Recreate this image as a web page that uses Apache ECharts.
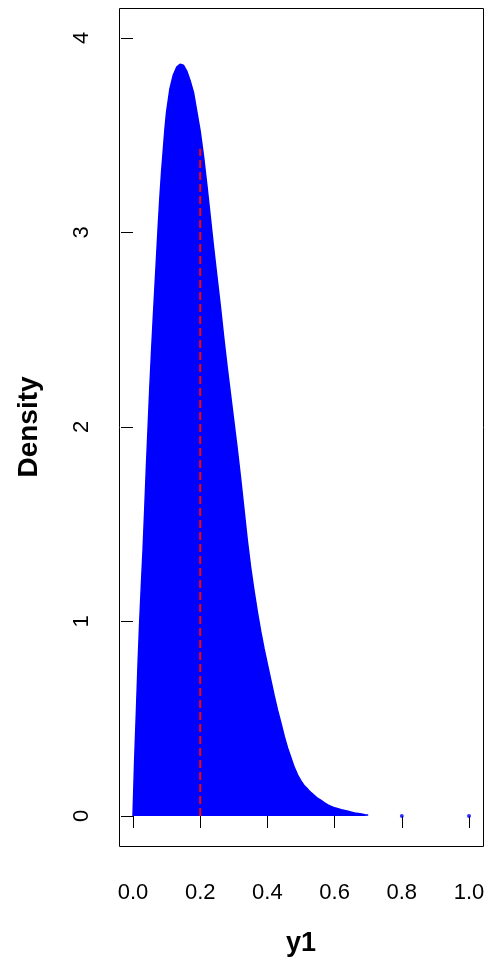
<!DOCTYPE html>
<html>
<head>
<meta charset="utf-8">
<script src="https://cdn.jsdelivr.net/npm/echarts@6/dist/echarts.min.js"></script>
<style>
  html, body { margin: 0; padding: 0; background: #fff; }
  #chart { width: 489px; height: 964px; }
</style>
</head>
<body>
<div id="chart"></div>
<script>
// density of y1
var xs = [0, 0.005, 0.01, 0.015, 0.02, 0.025, 0.03, 0.035, 0.04, 0.045, 0.05, 0.055, 0.06, 0.065, 0.07, 0.075,
          0.08, 0.085, 0.09, 0.095, 0.10, 0.11, 0.12, 0.13, 0.14, 0.15, 0.16, 0.17, 0.18, 0.19, 0.20,
          0.21, 0.22, 0.23, 0.24, 0.25, 0.26, 0.27, 0.28, 0.29, 0.30, 0.31, 0.32, 0.33, 0.34, 0.35,
          0.36, 0.37, 0.38, 0.39, 0.40, 0.41, 0.42, 0.43, 0.44, 0.45, 0.46, 0.47, 0.48, 0.49, 0.50,
          0.51, 0.52, 0.53, 0.54, 0.55, 0.56, 0.57, 0.58, 0.59, 0.60, 0.61, 0.62, 0.63, 0.64, 0.65,
          0.66, 0.67, 0.68, 0.69, 0.70];
var dens = [0, 0.29, 0.53, 0.78, 1.00, 1.19, 1.37, 1.58, 1.80, 2.00, 2.20, 2.38, 2.55, 2.71, 2.87, 3.03,
            3.18, 3.31, 3.42, 3.53, 3.62, 3.74, 3.81, 3.85, 3.865, 3.86, 3.83, 3.78, 3.72, 3.62, 3.52,
            3.39, 3.24, 3.08, 2.92, 2.77, 2.62, 2.46, 2.31, 2.17, 2.03, 1.89, 1.74, 1.58, 1.42, 1.28,
            1.16, 1.05, 0.95, 0.86, 0.78, 0.70, 0.62, 0.545, 0.48, 0.41, 0.35, 0.30, 0.25, 0.21, 0.18,
            0.155, 0.138, 0.12, 0.105, 0.09, 0.08, 0.068, 0.057, 0.049, 0.042, 0.037, 0.032, 0.028, 0.024, 0.02,
            0.016, 0.013, 0.01, 0.007, 0.005];
// isolated points
var extraX = [0.8, 1.0];
var extraY = [0, 0];
// reference line
var refX = 0.2;
var refTop = 3.43;

var xTicks = [0, 0.2, 0.4, 0.6, 0.8, 1.0];
var yTicks = [0, 1, 2, 3, 4];

var font = "'Liberation Sans', Arial, sans-serif";

var curve = [];
for (var i = 0; i < xs.length; i++) {
    curve.push([xs[i], dens[i]]);
}
var dots = [];
for (var j = 0; j < extraX.length; j++) {
    dots.push([extraX[j], extraY[j]]);
}

var myChart = echarts.init(document.getElementById('chart'));
var option = {
    animation: false,
    backgroundColor: '#fff',
    grid: {
        left: 133,
        right: 20,
        top: 38,
        bottom: 148
    },
    xAxis: {
        type: 'value',
        min: xTicks[0],
        max: xTicks[xTicks.length - 1],
        interval: 0.2,
        offset: 30,
        name: 'y1',
        nameLocation: 'middle',
        nameGap: 84,
        nameTextStyle: { fontFamily: font, fontSize: 27, fontWeight: 'bold', color: '#000' },
        axisLine: { show: false },
        axisTick: { show: true, length: 12, lineStyle: { color: '#000', width: 1 } },
        axisLabel: {
            margin: 36,
            fontFamily: font, fontSize: 22, color: '#000',
            formatter: function (v) { return v.toFixed(1); }
        },
        splitLine: { show: false }
    },
    yAxis: {
        type: 'value',
        min: yTicks[0],
        max: yTicks[yTicks.length - 1],
        interval: 1,
        offset: 14,
        name: 'Density',
        nameLocation: 'middle',
        nameGap: 76,
        nameTextStyle: { fontFamily: font, fontSize: 28, fontWeight: 'bold', color: '#000' },
        axisLine: { show: false },
        axisTick: { show: true, length: 12, lineStyle: { color: '#000', width: 1 } },
        axisLabel: {
            rotate: 90,
            margin: 26,
            fontFamily: font, fontSize: 22, color: '#000'
        },
        splitLine: { show: false }
    },
    graphic: [{
        type: 'rect',
        shape: { x: 119.5, y: 8.5, width: 364, height: 838 },
        style: { fill: 'none', stroke: '#000', lineWidth: 1 },
        silent: true
    }],
    series: [{
        type: 'line',
        data: curve,
        showSymbol: false,
        clip: false,
        lineStyle: { color: '#0000ff', width: 1.5 },
        areaStyle: { color: '#0000ff', opacity: 1 },
        z: 2
    }, {
        type: 'scatter',
        data: dots,
        symbol: 'circle',
        symbolSize: 4,
        clip: false,
        itemStyle: { color: '#0000ff' },
        z: 2
    }, {
        type: 'line',
        data: [[refX, 0], [refX, refTop]],
        showSymbol: false,
        lineStyle: { color: '#ff0000', width: 2, type: [8, 4] },
        z: 3
    }]
};
myChart.setOption(option);
</script>
</body>
</html>
